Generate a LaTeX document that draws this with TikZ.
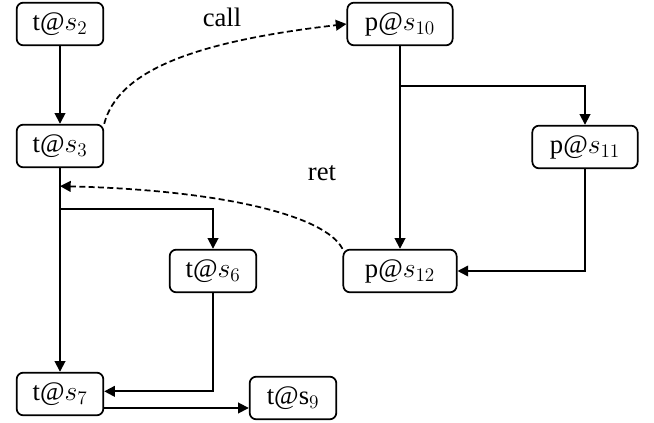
\documentclass[tikz,border=0pt]{standalone}
\usepackage{amsmath}
\usepackage{fontspec}
\setmainfont{Liberation Serif}
\usepackage{tikz}
\usetikzlibrary{arrows.meta,positioning,calc}

\begin{document}
\begin{tikzpicture}[x=0.75pt,y=-0.75pt,
    every node/.style={font=\rmfamily\fontsize{20}{23}\selectfont},
    box/.style={draw,line width=1.3pt,rounded corners=5pt,
                minimum height=32pt,minimum width=65pt,inner sep=2pt},
    arr/.style={line width=1.3pt,-{Triangle[length=8pt,width=8pt]}},
    dsh/.style={arr,dash pattern=on 4.5pt off 2.5pt}]
  \useasboundingbox (0,0) rectangle (654,423);
  % t side
  \node[box] (s2) at (60,24) {t@$s_2$};
  \node[box] (s3) at (60,146) {t@$s_3$};
  \node[box] (s6) at (213,271) {t@$s_6$};
  \node[box] (s7) at (60,394) {t@$s_7$};
  \node[box] (s9) at (293,398) {t@$\mathrm{s}_9$};
  % p side
  \node[box,minimum width=79pt] (s10) at (400,24) {p@$s_{10}$};
  \node[box,minimum width=79pt] (s11) at (585,147) {p@$s_{11}$};
  \node[box,minimum width=85pt] (s12) at (400,271) {p@$s_{12}$};
  \coordinate (j3) at (60,209);
  \coordinate (j10) at (400,86);
  \coordinate (o7) at ([yshift=-10.5pt]s7.east);
  \node (call) at (222,17) {call};
  \node (ret) at (322,173) {ret};

  \draw[arr] (s2) -- (s3);
  \draw[arr] (s3) -- (s7);
  \draw[arr] (j3) -| (s6.north);
  \draw[arr] (s6.south) |- ([yshift=2pt]s7.east);
  \draw[arr] (o7) -- (o7 -| s9.west);
  \draw[arr] (s10) -- (s12);
  \draw[arr] (j10) -| (s11.north);
  \draw[arr] (s11.south) |- (s12.east);

  \draw[dsh] (s3.north east) .. controls (118,72) and (190,42) .. (s10.west);
  \draw[dsh] (s12.north west) .. controls (325,215) and (220,190) .. ($(s3.south)!0.44!(j3)$);
\end{tikzpicture}
\end{document}
